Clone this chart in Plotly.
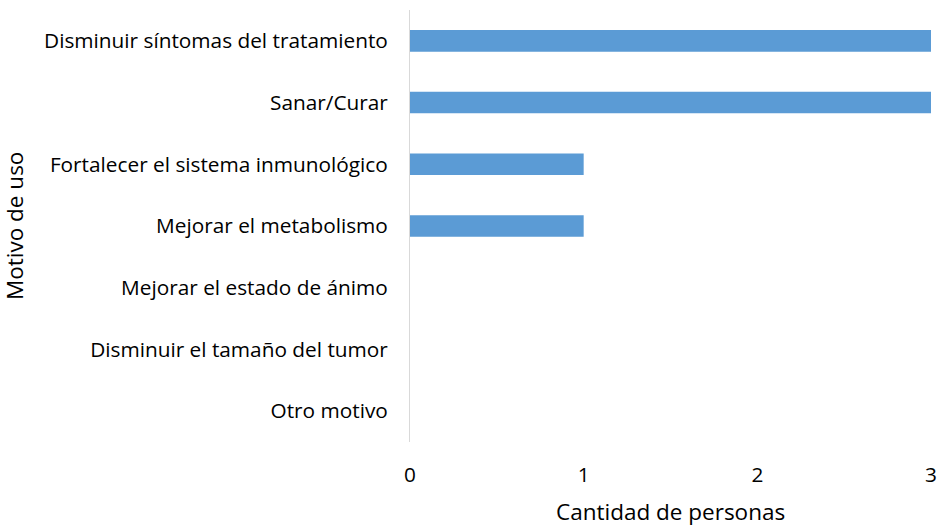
import plotly.graph_objects as go

categories = [
    "Disminuir síntomas del tratamiento",
    "Sanar/Curar",
    "Fortalecer el sistema inmunológico",
    "Mejorar el metabolismo",
    "Mejorar el estado de ánimo",
    "Disminuir el tamaño del tumor",
    "Otro motivo",
]
values = [3, 3, 1, 1, 0, 0, 0]
x_ticks = [0, 1, 2, 3]

FONT = "Open Sans"
TICK = 20.8
TITLE = 22.5

fig = go.Figure(go.Bar(
    x=values, y=categories, orientation="h",
    marker=dict(color="#5B9BD5", line=dict(width=0)),
    width=0.35,
))

fig.update_layout(
    width=941, height=526,
    margin=dict(l=410, r=10, t=10, b=84),
    paper_bgcolor="white", plot_bgcolor="white",
    font=dict(family=FONT, size=TICK, color="#000000"),
    showlegend=False,
)
fig.update_yaxes(
    categoryorder="array", categoryarray=categories, autorange="reversed",
    showline=True, linecolor="#D9D9D9", linewidth=1,
    showgrid=False, ticks="", ticklabelstandoff=17,
    tickfont=dict(family=FONT, size=TICK, color="#000000"),
    zeroline=False, automargin=False,
)
fig.update_xaxes(
    range=[0, 3], tickvals=x_ticks, ticktext=[str(v) for v in x_ticks],
    showgrid=False, showline=False, zeroline=False, ticks="",
    ticklabelstandoff=18, automargin=False,
    tickfont=dict(family=FONT, size=TICK, color="#000000"),
)
fig.add_annotation(
    text="Cantidad de personas", xref="paper", yref="paper",
    x=0.5, y=0, yanchor="middle", xanchor="center", yshift=-69, showarrow=False,
    borderpad=0,
    font=dict(family=FONT, size=TITLE, color="#000000"),
)
fig.add_annotation(
    text="Motivo de uso", xref="paper", yref="paper",
    x=0, y=0.5, xanchor="center", yanchor="middle", xshift=-396, textangle=-90,
    showarrow=False, borderpad=0,
    font=dict(family=FONT, size=TITLE, color="#000000"),
)
fig.write_html(
    "out.html",
    config={"displayModeBar": False},
    post_script="document.body.style.margin='0';document.body.style.overflow='hidden';",
)
